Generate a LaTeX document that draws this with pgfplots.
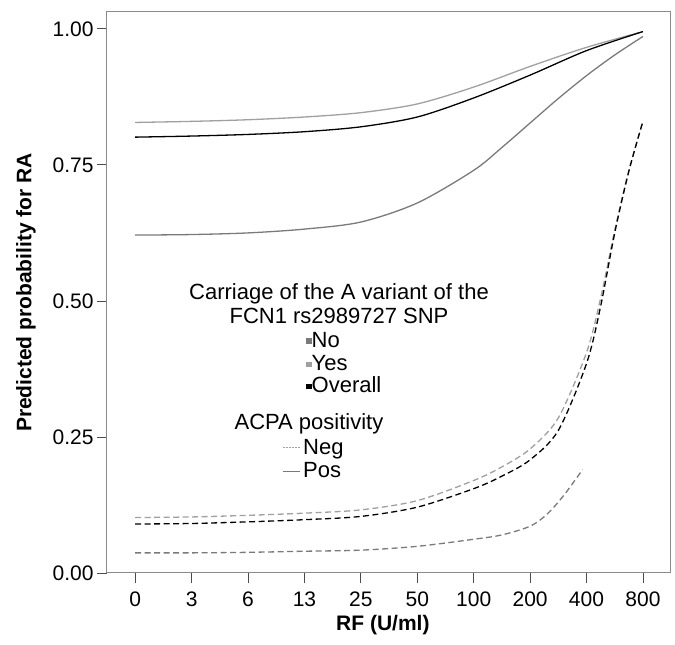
\documentclass[border=0pt]{standalone}
\usepackage{fontspec}
\setmainfont{Liberation Sans}
\usepackage{pgfplots}
\pgfplotsset{compat=1.18}

\definecolor{noC}{HTML}{7A7A7A}
\definecolor{yesC}{HTML}{A0A0A0}
\definecolor{boxC}{HTML}{8A8A8A}

\tikzset{lbl/.style={font=\fontsize{22}{26}\selectfont, inner sep=0pt}}

\begin{document}
\begin{tikzpicture}
\path[use as bounding box] (-107pt,-72pt) rectangle (568pt,573pt);
\begin{axis}[
  at={(0,0)}, anchor=south west,
  scale only axis, width=563pt, height=561pt,
  xmin=-0.5, xmax=9.48, ymin=0, ymax=1.031,
  axis line style={boxC, line width=1pt},
  xtick={0,...,9}, xticklabels={0,3,6,13,25,50,100,200,400,800},
  ytick={0,0.25,0.5,0.75,1}, yticklabels={0.00,0.25,0.50,0.75,1.00},
  tick align=outside, xtick pos=bottom, ytick pos=left,
  major tick length=10pt,
  tick style={black!70, line width=0.8pt},
  ticklabel style={font=\fontsize{21}{25}\selectfont},
  xticklabel style={yshift=-5pt},
  xlabel={RF (U/ml)}, ylabel={Predicted probability for RA},
  label style={font=\bfseries\fontsize{21}{25}\selectfont},
  xlabel style={at={(axis description cs:0.49,-0.0935)}, anchor=center},
  ylabel style={at={(axis description cs:-0.1439,0.5)}, anchor=center},
  clip=false,
]
% ACPA positive (solid)
\addplot[smooth, yesC, line width=1.3pt] coordinates {
  (0,0.828) (1,0.830) (2,0.833) (3,0.838) (4,0.846) (5,0.862)
  (6,0.893) (7,0.931) (8,0.966) (9,0.995)};
\addplot[smooth, black, line width=1.3pt] coordinates {
  (0,0.801) (1,0.803) (2,0.806) (3,0.811) (4,0.820) (5,0.838)
  (6,0.873) (7,0.915) (8,0.960) (9,0.995)};
\addplot[smooth, noC, line width=1.3pt] coordinates {
  (0,0.621) (1,0.622) (2,0.625) (3,0.632) (4,0.645) (5,0.680)
  (6,0.740) (6.5,0.782) (7,0.827) (7.5,0.872) (8,0.914) (8.5,0.952) (9,0.986)};
% ACPA negative (dashed)
\addplot[smooth, yesC, line width=1.3pt, dash pattern=on 6pt off 3.5pt] coordinates {
  (0,0.102) (1,0.103) (2,0.106) (3,0.110) (4,0.116) (5,0.133)
  (6,0.170) (6.5,0.195) (7,0.228) (7.5,0.285) (8,0.405)
  (8.25,0.505) (8.5,0.630) (8.75,0.740) (9,0.830)};
\addplot[smooth, black, line width=1.3pt, dash pattern=on 6pt off 3.5pt] coordinates {
  (0,0.090) (1,0.091) (2,0.094) (3,0.098) (4,0.104) (5,0.121)
  (6,0.155) (6.5,0.178) (7,0.208) (7.5,0.262) (8,0.385)
  (8.25,0.490) (8.5,0.625) (8.75,0.738) (9,0.830)};
\addplot[smooth, noC, line width=1.3pt, dash pattern=on 6pt off 3.5pt] coordinates {
  (0,0.037) (1,0.037) (2,0.038) (3,0.040) (4,0.042) (5,0.049)
  (6,0.062) (6.5,0.070) (7,0.086) (7.3,0.108) (7.6,0.143) (7.93,0.190)};
\end{axis}
% legend
\node[lbl, anchor=base] at (232pt,273pt) {Carriage of the A variant of the};
\node[lbl, anchor=base] at (232pt,249pt) {FCN1 rs2989727 SNP};
\fill[noC] (199pt,229pt) rectangle (204.5pt,234.5pt);
\node[lbl, anchor=base west] at (204.5pt,225pt) {No};
\fill[yesC] (199pt,205.5pt) rectangle (204.5pt,211pt);
\node[lbl, anchor=base west] at (204.5pt,202pt) {Yes};
\fill[black] (199pt,183.5pt) rectangle (204.5pt,189pt);
\node[lbl, anchor=base west] at (204.5pt,180pt) {Overall};
\node[lbl, anchor=base] at (202pt,143pt) {ACPA positivity};
\draw[yesC, line width=1pt, dash pattern=on 1.5pt off 1.5pt] (176pt,125pt) -- (193pt,125pt);
\node[lbl, anchor=base west] at (196pt,118pt) {Neg};
\draw[noC, line width=1pt] (176pt,101.5pt) -- (193pt,101.5pt);
\node[lbl, anchor=base west] at (196pt,95pt) {Pos};
\end{tikzpicture}
\end{document}
